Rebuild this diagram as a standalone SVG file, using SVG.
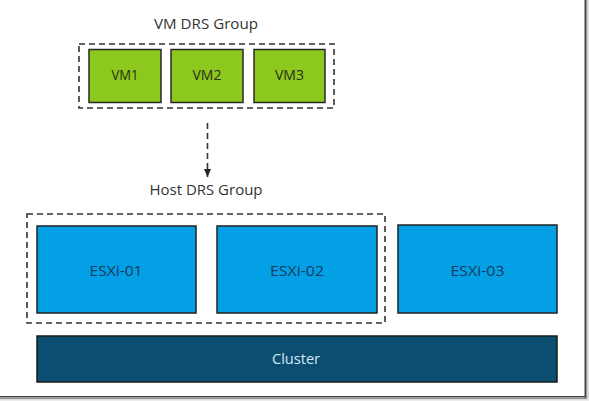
<svg xmlns="http://www.w3.org/2000/svg" width="589" height="401" viewBox="0 0 589 401">
<style>
text{font-family:"Open Sans","Liberation Sans",sans-serif;text-anchor:middle}
.lbl{font-size:14px;fill:#333}
.vm{fill:#8cc81e;stroke:#2a2a2a;stroke-width:1.5}
.vmt{font-size:14px;fill:#2a2f1a}
.esx{fill:#03a0e6;stroke:#222;stroke-width:1.5}
.esxt{font-size:15px;fill:#153a5c}
.grp{fill:none;stroke:#333;stroke-width:1.6;stroke-dasharray:6 4}
</style>
<defs>
<marker id="ah" markerWidth="8" markerHeight="7" refX="8" refY="3.5" orient="auto" markerUnits="userSpaceOnUse" viewBox="0 0 8 7">
<path d="M0,0 L8,3.5 L0,7 Z" fill="#222"/>
</marker>
</defs>
<rect x="0" y="0" width="589" height="401" fill="#fff"/>
<rect x="584.5" y="0" width="1.5" height="398" fill="#444"/>
<rect x="586" y="0" width="1.5" height="398" fill="#999"/>
<rect x="587.5" y="0" width="1.5" height="398" fill="#d8d8d8"/>
<rect x="0" y="396" width="586" height="1.5" fill="#444"/>
<rect x="0" y="397.5" width="587.5" height="1.5" fill="#999"/>
<rect x="0" y="399" width="589" height="1.5" fill="#d8d8d8"/>

<g id="vm-drs-group">
<rect class="grp" x="79" y="44" width="255" height="64"/>
<text class="lbl" x="206" y="29" textLength="104" lengthAdjust="spacingAndGlyphs">VM DRS Group</text>
</g>
<g id="vm1"><rect class="vm" x="89" y="49.5" width="72" height="53"/><text class="vmt" x="125" y="80" textLength="27" lengthAdjust="spacingAndGlyphs">VM1</text></g>
<g id="vm2"><rect class="vm" x="171" y="49.5" width="72" height="53"/><text class="vmt" x="207" y="80" textLength="29" lengthAdjust="spacingAndGlyphs">VM2</text></g>
<g id="vm3"><rect class="vm" x="254" y="49.5" width="71" height="53"/><text class="vmt" x="289.5" y="80" textLength="29" lengthAdjust="spacingAndGlyphs">VM3</text></g>

<g id="host-drs-group">
<rect class="grp" x="27" y="214" width="358" height="109"/>
<text class="lbl" x="206" y="195" textLength="113" lengthAdjust="spacingAndGlyphs">Host DRS Group</text>
</g>
<g id="esxi-01"><rect class="esx" x="37" y="226" width="159" height="87"/><text class="esxt" x="116" y="276" textLength="53" lengthAdjust="spacingAndGlyphs">ESXi-01</text></g>
<g id="esxi-02"><rect class="esx" x="217" y="226" width="160" height="87"/><text class="esxt" x="297" y="276" textLength="54" lengthAdjust="spacingAndGlyphs">ESXi-02</text></g>
<g id="esxi-03"><rect class="esx" x="398" y="225" width="159" height="88"/><text class="esxt" x="477.5" y="276" textLength="54" lengthAdjust="spacingAndGlyphs">ESXi-03</text></g>
<g id="cluster"><rect x="37" y="336" width="520" height="46" fill="#0b4e72" stroke="#1a1a1a" stroke-width="1.5"/><text x="296" y="363.5" textLength="48" lengthAdjust="spacingAndGlyphs" style="font-size:14px;fill:#d4e8f2">Cluster</text></g>

<g id="connectors">
<line x1="207.5" y1="123" x2="207.5" y2="177" stroke="#333" stroke-width="1.6" stroke-dasharray="6 4" marker-end="url(#ah)"/>
</g>
</svg>
